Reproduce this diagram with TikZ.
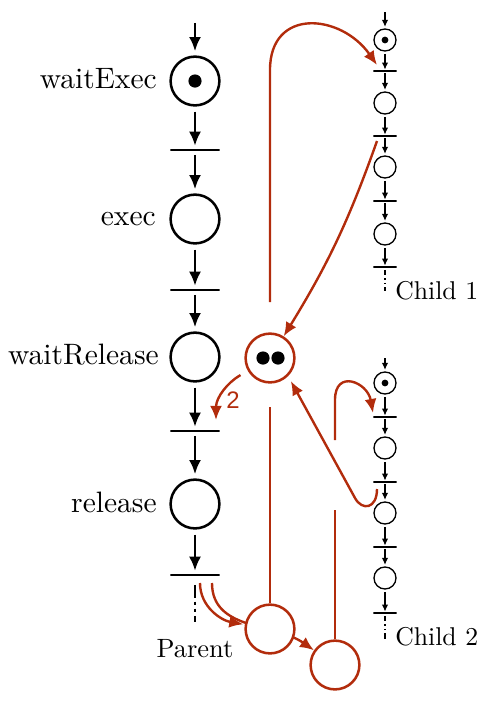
\documentclass[tikz,border=0pt]{standalone}
\usepackage{fontspec}
\usetikzlibrary{arrows.meta}
\newfontfamily\helvfont{Liberation Sans}
\newfontfamily\tenfont{lmroman10-regular.otf}
\definecolor{rust}{RGB}{178,44,12}

\begin{document}
\begin{tikzpicture}
    [
        x=0.25mm, y=0.25mm,
        >={Latex[length=10pt,width=8.5pt]},
        place/.style={circle, draw, line width=1.8pt, minimum size=12.2mm, inner sep=0},
        trans/.style={draw, line width=1.9pt, minimum width=12.3mm, minimum height=0, inner sep=0, outer sep=0},
        token/.style={circle, fill, minimum size=3.3mm, inner sep=0},
        cplace/.style={circle, draw, line width=0.95pt, minimum size=5.5mm, inner sep=0},
        ctrans/.style={draw, line width=1pt, minimum width=5.8mm, minimum height=0, inner sep=0, outer sep=0},
        ctoken/.style={circle, fill, minimum size=1.7mm, inner sep=0},
        rplace/.style={place, draw=rust, fill=white},
        arc/.style={->, line width=1.7pt, shorten >=3pt, shorten <=3.5pt},
        carc/.style={-{Latex[length=5pt,width=4.6pt]}, line width=0.9pt, shorten >=1pt, shorten <=1.5pt},
        rline/.style={draw=rust, line width=1.7pt},
        rarc/.style={rline, ->},
        ptail/.style={line width=1.7pt, shorten <=7pt, dash pattern=on 9pt off 3pt on 2pt off 3pt on 2pt off 3pt},
        ctail/.style={line width=0.9pt, shorten <=2pt, dash pattern=on 4pt off 2pt on 1.2pt off 2pt on 1.2pt off 2pt},
        lbl/.style={anchor=east, inner sep=0, font=\tenfont\fontsize{21}{25}\selectfont},
        clbl/.style={anchor=west, inner sep=0, font=\tenfont\fontsize{18.3}{22}\selectfont},
        plbl/.style={inner sep=0, font=\tenfont\fontsize{18.8}{22}\selectfont},
        twolbl/.style={text=rust, inner sep=0, font=\helvfont\fontsize{17}{20}\selectfont},
    ]

    \useasboundingbox (0,0) rectangle (486,-704);

    % parent
    \coordinate (pIn) at (195,-18);
    \node (waitExec)    at (195,-81)  [place] {};
    \node (pTok)        at (195,-81)  [token] {};
    \node (pT1)         at (195,-150) [trans] {};
    \node (exec)        at (195,-219) [place] {};
    \node (pT2)         at (195,-290) [trans] {};
    \node (waitRelease) at (195,-357) [place] {};
    \node (pT3)         at (195,-431) [trans] {};
    \node (release)     at (195,-504) [place] {};
    \node (pT4)         at (195,-575) [trans] {};
    \coordinate (pOut) at (195,-622);

    \node (lWaitExec)    at (157,-79)  [lbl] {waitExec};
    \node (lExec)        at (156,-219) [lbl] {exec};
    \node (lWaitRelease) at (159,-355) [lbl] {waitRelease};
    \node (lRelease)     at (157,-502) [lbl] {release};
    \node (lParent)      at (195,-649) [plbl] {Parent};

    \path
    (pIn)         edge [arc] (waitExec)
    (waitExec)    edge [arc] (pT1)
    (pT1)         edge [arc] (exec)
    (exec)        edge [arc] (pT2)
    (pT2)         edge [arc] (waitRelease)
    (waitRelease) edge [arc] (pT3)
    (pT3)         edge [arc] (release)
    (release)     edge [arc] (pT4);
    \draw [ptail] (pT4) -- (pOut);

    % child 1
    \coordinate (c1In0) at (385,-10);
    \node (c1p1) at (385,-40)  [cplace] {};
    \node (c1k1) at (385,-40)  [ctoken] {};
    \node (c1t1) at (385,-71)  [ctrans] {};
    \node (c1p2) at (385,-103) [cplace] {};
    \node (c1t2) at (385,-136) [ctrans] {};
    \node (c1p3) at (385,-167) [cplace] {};
    \node (c1t3) at (385,-201) [ctrans] {};
    \node (c1p4) at (385,-234) [cplace] {};
    \node (c1t4) at (385,-267) [ctrans] {};
    \coordinate (c1End) at (385,-291);
    \node (lChild1) at (395,-291) [clbl] {Child 1};

    \path
    (c1In0) edge [carc] (c1p1)
    (c1p1)  edge [carc] (c1t1)
    (c1t1)  edge [carc] (c1p2)
    (c1p2)  edge [carc] (c1t2)
    (c1t2)  edge [carc] (c1p3)
    (c1p3)  edge [carc] (c1t3)
    (c1t3)  edge [carc] (c1p4)
    (c1p4)  edge [carc] (c1t4);
    \draw [ctail] (c1t4) -- (c1End);

    % child 2
    \coordinate (c2In0) at (385,-356);
    \node (c2p1) at (385,-383) [cplace] {};
    \node (c2k1) at (385,-383) [ctoken] {};
    \node (c2t1) at (385,-417) [ctrans] {};
    \node (c2p2) at (385,-448) [cplace] {};
    \node (c2t2) at (385,-482) [ctrans] {};
    \node (c2p3) at (385,-513) [cplace] {};
    \node (c2t3) at (385,-547) [ctrans] {};
    \node (c2p4) at (385,-578) [cplace] {};
    \node (c2t4) at (385,-613) [ctrans] {};
    \coordinate (c2End) at (385,-640);
    \node (lChild2) at (395,-637) [clbl] {Child 2};

    \path
    (c2In0) edge [carc] (c2p1)
    (c2p1)  edge [carc] (c2t1)
    (c2t1)  edge [carc] (c2p2)
    (c2p2)  edge [carc] (c2t2)
    (c2t2)  edge [carc] (c2p3)
    (c2p3)  edge [carc] (c2t3)
    (c2t3)  edge [carc] (c2p4)
    (c2p4)  edge [carc] (c2t4);
    \draw [ctail] (c2t4) -- (c2End);

    % shared place
    \node (lock)     at (270,-358) [rplace] {};
    \node (lockTokA) at (263,-358) [token] {};
    \node (lockTokB) at (278,-358) [token] {};

    % spawn places (spawn2 first, its arc passes under spawn1)
    \node (spawn2) at (335,-665) [rplace] {};
    \coordinate (pSpawnB) at (212,-583);
    \draw [rarc] (pSpawnB) to[out=-90,in=145] (spawn2);
    \node (spawn1) at (270,-629) [rplace] {};
    \coordinate (pSpawnA) at (200,-583);
    \draw [rarc, shorten >=1pt] (pSpawnA) to[out=-90,in=170] (spawn1);

    % spawn1 -> child 1
    \coordinate (gapA) at (270,-407);
    \coordinate (gapB) at (270,-302);
    \coordinate (c1In) at (377,-65);
    \draw [rline] (spawn1) -- (gapA);
    \draw [rarc] (gapB) -- (270,-70) to[out=90,in=125,looseness=1.5] (c1In);

    % child 1 -> lock
    \coordinate (c1Out) at (377,-141);
    \draw [rarc] (c1Out) to[bend left=6] (lock);

    % lock -> parent (weight 2)
    \coordinate (pT3In) at (216,-420);
    \draw [rarc, shorten <=6pt] (lock) to[out=210,in=90] (pT3In);
    \node (lTwo) at (233,-400) [twolbl] {2};

    % spawn2 -> child 2
    \coordinate (gapC) at (335,-510);
    \coordinate (gapD) at (335,-440);
    \coordinate (c2In) at (373,-413);
    \draw [rline] (spawn2) -- (gapC);
    \draw [rarc] (gapD) -- (335,-400) to[out=90,in=100,looseness=2] (c2In);

    % child 2 -> lock
    \coordinate (c2Out) at (377,-489);
    \draw [rarc, shorten >=4pt] (c2Out) .. controls (377,-509) and (362,-511) .. (355,-498) -- (lock.-45);

\end{tikzpicture}
\end{document}
